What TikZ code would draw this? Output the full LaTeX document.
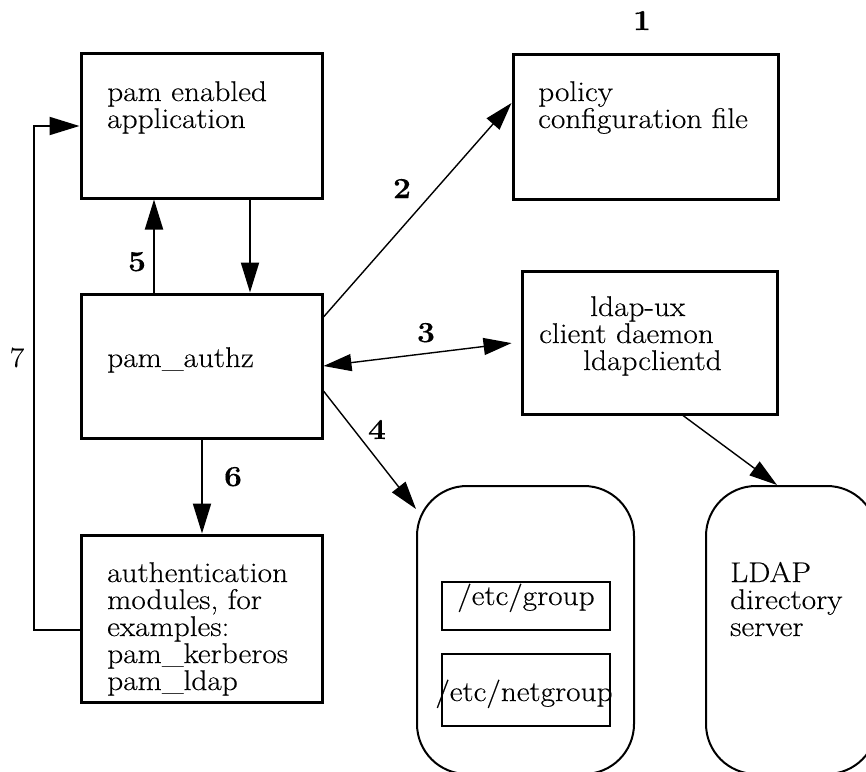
\documentclass[tikz,border=0pt]{standalone}
\usepackage{fontspec}
\setmainfont{Latin Modern Roman}[FakeStretch=1.1,FakeBold=0.3]
\usetikzlibrary{arrows.meta,calc}
\begin{document}
\begin{tikzpicture}[x=1pt,y=-1pt,
  box/.style={draw,line width=3pt,inner sep=0pt,rectangle},
  store/.style={draw,line width=2pt,rounded corners=50pt,inner sep=0pt,rectangle},
  inbox/.style={draw,line width=1.8pt,inner sep=0pt,rectangle},
  txt/.style={inner sep=0pt,anchor=base west,align=left,font=\fontsize{28.5}{27}\selectfont},
  ctxt/.style={inner sep=0pt,anchor=base,font=\fontsize{28.5}{27}\selectfont},
  num/.style={inner sep=0pt,anchor=base,font=\fontsize{29}{27}\selectfont\bfseries},
  bigarr/.style={line width=2pt,-{Triangle[length=30pt,width=18pt]}},
  thinarr/.style={line width=1.4pt,-{Triangle[length=28pt,width=17pt]}},
  dblarr/.style={line width=1.4pt,{Triangle[length=28pt,width=17pt]}-{Triangle[length=28pt,width=17pt]}},
]
\useasboundingbox (0,0) rectangle (866,771);
\fill[white] (0,0) rectangle (866,771);
\begin{scope}
\clip (0,0) rectangle (866,771);

% rectangular process boxes
\node[box,minimum width=241pt,minimum height=145pt] (app)    at (201.5,125.5) {};
\node[box,minimum width=241pt,minimum height=144pt] (authz)  at (201.5,366)   {};
\node[box,minimum width=241pt,minimum height=167pt] (auth)   at (201.5,618.5) {};
\node[box,minimum width=265pt,minimum height=145pt] (policy) at (645.5,126.5) {};
\node[box,minimum width=255pt,minimum height=143pt] (ldapux) at (649.5,342.5) {};

% rounded data stores
\node[store,minimum width=217pt,minimum height=288pt] (etc)  at (525.5,630) {};
\node[store,minimum width=171pt,minimum height=288pt] (ldap) at (791.5,630) {};
\node[inbox,minimum width=168pt,minimum height=48pt] (grp)  at (526,606) {};
\node[inbox,minimum width=168pt,minimum height=72pt] (ngrp) at (526,690) {};

% box texts (anchored on the baseline of their last line)
\node[txt] (tapp) at (107,128) {pam enabled\\application};
\node[txt] (tpol) at (538,128) {policy\\configuration file};
\node[txt] (tauthz) at (107,367) {pam\_authz};
\node[txt] (tldapux) at (539,370) {\hspace*{51pt}ldap-ux\\client daemon\\\hspace*{44pt}ldapclientd};
\node[txt] (tauth) at (107,690) {authentication\\modules, for\\examples:\\pam\_kerberos\\pam\_ldap};
\node[ctxt] (tgrp) at (526,605) {/etc/group};
\node[ctxt] (tngrp) at (524,701) {/etc/netgroup};
\node[txt] (tldap) at (730,636) {LDAP\\directory\\server};

% step numbers
\node[num] (n1) at (642,30) {1};
\node[num] (n2) at (402,198) {2};
\node[num] (n3) at (426,342) {3};
\node[num] (n4) at (377,439) {4};
\node[num] (n5) at (137,271) {5};
\node[num] (n6) at (233,486) {6};
\node[ctxt] (n7) at (17,367) {7};

% connectors
\draw[bigarr] (app.south -| 250,0) -- (authz.north -| 250,0);
\draw[bigarr] (authz.north -| 154,0) -- (app.south -| 154,0);
\draw[bigarr] (authz.south -| 202,0) -- (auth.north -| 202,0);
\draw[line width=2pt,-{Triangle[length=30pt,width=18pt]}]
  (auth.west |- 0,630) -- (34,630) -- (34,126) -- (app.west |- 0,126);
\draw[thinarr] (authz.east |- 0,317) -- (policy.west |- 0,103);
\draw[dblarr,shorten >=9pt] (authz.east |- 0,366) -- (ldapux.west |- 0,342);
\coordinate (etcin) at ($(etc.north west)+(0,24)$);
\draw[thinarr] (authz.east |- 0,391) -- (etcin);
\draw[thinarr] (ldapux.south -| 683,0) -- (ldap.north -| 777,0);
\end{scope}
\end{tikzpicture}
\end{document}
